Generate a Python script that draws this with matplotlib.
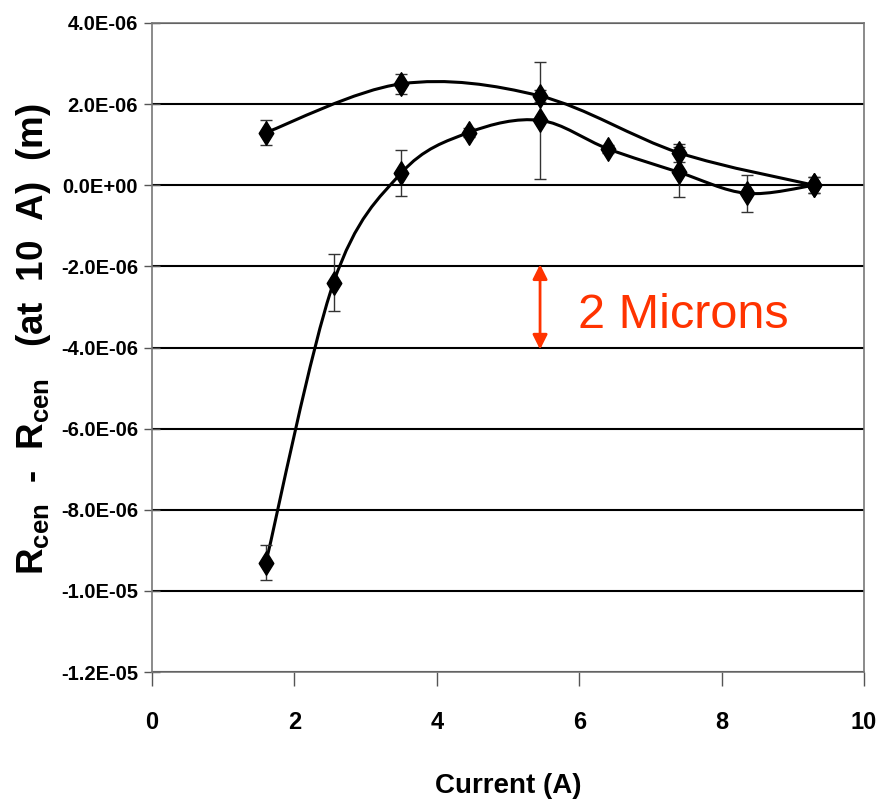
import numpy as np
import matplotlib.pyplot as plt
from matplotlib.path import Path
from matplotlib.patches import PathPatch
from matplotlib.markers import MarkerStyle

plt.rcParams['font.family'] = ['Liberation Sans', 'DejaVu Sans']
plt.rcParams['mathtext.fontset'] = 'custom'
plt.rcParams['mathtext.rm'] = 'Liberation Sans:bold'
plt.rcParams['mathtext.bf'] = 'Liberation Sans:bold'

# upper curve
x_up = [1.6, 3.5, 5.45, 7.4, 9.3]
y_up = [1.3e-6, 2.5e-6, 2.2e-6, 0.8e-6, 0.0]
err_up = [0.3e-6, 0.25e-6, 0.15e-6, 0.22e-6, 0.2e-6]

# lower curve
x_lo = [1.6, 2.55, 3.5, 4.45, 5.45, 6.4, 7.4, 8.35, 9.3]
y_lo = [-9.3e-6, -2.4e-6, 0.3e-6, 1.3e-6, 1.6e-6, 0.9e-6, 0.32e-6, -0.2e-6, 0.0]
err_lo = [0.43e-6, 0.7e-6, 0.56e-6, 0.1e-6, 1.45e-6, 0.1e-6, 0.62e-6, 0.45e-6, 0.2e-6]

yticks = [4e-6, 2e-6, 0, -2e-6, -4e-6, -6e-6, -8e-6, -1e-5, -1.2e-5]
ytick_labels = ['4.0E-06', '2.0E-06', '0.0E+00', '-2.0E-06', '-4.0E-06',
                '-6.0E-06', '-8.0E-06', '-1.0E-05', '-1.2E-05']
xticks = [0, 2, 4, 6, 8, 10]


def smooth_path(xs, ys):
    # excel-like smoothed line: cubic bezier segments (catmull-rom)
    p = np.column_stack([xs, ys])
    n = len(p)
    verts = [p[0]]
    codes = [Path.MOVETO]
    for i in range(n - 1):
        p0 = p[i - 1] if i > 0 else p[i]
        p1 = p[i]
        p2 = p[i + 1]
        p3 = p[i + 2] if i + 2 < n else p[i + 1]
        c1 = p1 + (p2 - p0) / 6
        c2 = p2 - (p3 - p1) / 6
        verts += [c1, c2, p2]
        codes += [Path.CURVE4] * 3
    return Path(verts, codes)


fig = plt.figure(figsize=(8.78, 8.09), dpi=100)
ax = fig.add_axes([0.1731, 0.1693, 0.811, 0.8023])

for yv in yticks:
    ax.axhline(yv, color='black', lw=1.5, zorder=1)

diamond = MarkerStyle(Path([(0, 1), (0.62, 0), (0, -1), (-0.62, 0), (0, 1)],
                           [Path.MOVETO, Path.LINETO, Path.LINETO, Path.LINETO, Path.CLOSEPOLY]))

for xs, ys, es in [(x_up, y_up, err_up), (x_lo, y_lo, err_lo)]:
    ax.add_patch(PathPatch(smooth_path(xs, ys), fill=False, ec='black', lw=2.2, zorder=3))
    ax.errorbar(xs, ys, yerr=es, fmt='none', ecolor='#333333', elinewidth=1,
                capsize=4, capthick=1, zorder=4)
    ax.plot(xs, ys, ls='none', marker=diamond, ms=17, color='black', zorder=5)

# 2 micron scale marker
ax.annotate('', xy=(5.45, -1.95e-6), xytext=(5.45, -4.05e-6),
            arrowprops=dict(arrowstyle='<|-|>', color='#FF3300', lw=2,
                            mutation_scale=22, shrinkA=0, shrinkB=0), zorder=6)
ax.text(5.98, -3.2e-6, '2 Microns', color='#FF3300', fontsize=35,
        va='center', ha='left', zorder=6)

ax.set_xlim(0, 10)
ax.set_ylim(-1.2e-5, 4e-6)
ax.set_xticks(xticks)
ax.set_xticklabels([str(v) for v in xticks], fontsize=17, fontweight='bold')
ax.set_yticks(yticks)
ax.set_yticklabels(ytick_labels, fontsize=14.5, fontweight='bold')
ax.tick_params(axis='x', direction='out', length=10, width=1, pad=18, color='#555555')
ax.tick_params(axis='y', direction='inout', length=12, width=1, pad=4, color='#555555')
for s in ax.spines.values():
    s.set_color('#777777')
    s.set_linewidth(1.2)

fig.text(0.5786, 0.029, 'Current (A)', ha='center', va='center',
         fontsize=20, fontweight='bold')
fig.text(0.038, 0.58, r'R$_{\mathbf{cen}}$  -  R$_{\mathbf{cen}}$   (at  10  A)  (m)',
         rotation=90, ha='center', va='center', fontsize=26.5, fontweight='bold')

fig.savefig('out.png', dpi=100)
